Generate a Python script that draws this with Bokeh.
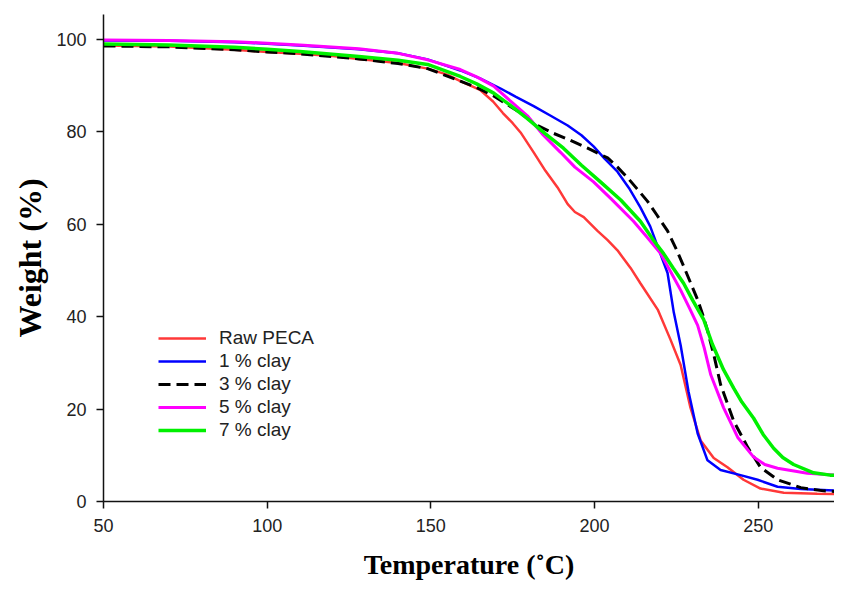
from bokeh.plotting import figure
from bokeh.models import Range1d, FixedTicker, Legend, LegendItem
from bokeh.embed import file_html
from bokeh.resources import INLINE

# ---- data ----
raw_t = [50, 70, 90, 100, 110, 120, 128, 140, 149, 155, 159, 165, 169, 172, 175, 177.4, 181.4, 185,
         188.7, 191.8, 194, 196.7, 200.9, 204, 207, 211, 214, 219.3, 223.2, 226.3, 229.3, 232.4,
         236.4, 240.6, 245.5, 250.7, 257.8, 268, 278]
raw_w = [98.6, 98.4, 97.7, 97.2, 96.8, 96.3, 95.7, 94.8, 93.6, 92.3, 90.9, 89.0, 86.5, 84.0, 81.8, 79.8,
         75.5, 71.5, 67.9, 64.3, 62.6, 61.5, 58.5, 56.5, 54.3, 50.5, 47.2, 41.5, 35.0, 29.5, 20.3, 13.2,
         9.4, 7.4, 4.7, 2.8, 1.9, 1.7, 1.6]

c1_t = [50, 70, 90, 100, 110, 128, 140, 149, 159, 165, 171.3, 176, 181.4, 186.6, 191.8, 196, 199.7,
        203, 207, 210.5, 214, 217, 219.3, 222.3, 224.2, 226.3, 228.7, 231.5, 234.5, 238.5, 244.6,
        249.8, 255.9, 263, 278]
c1_w = [99.7, 99.6, 99.3, 99.0, 98.6, 97.8, 96.9, 95.6, 93.2, 91.5, 89.3, 87.5, 85.5, 83.4, 81.3, 79.2,
        76.8, 74.2, 71.3, 67.8, 63.6, 59.5, 55.1, 49.4, 40.9, 33.8, 23.8, 14.7, 8.9, 6.8, 5.7, 4.7,
        3.2, 2.7, 2.2]

c3_t = [50, 70, 90, 100, 110, 128, 140, 149, 159, 164, 169.2, 173, 177.4, 182, 187.5, 192, 197.9, 201,
        204, 207, 210.1, 213, 216.2, 219, 222.3, 225, 227.2, 229.5, 231.5, 233, 234.5, 236.5, 238.5,
        242.5, 246.8, 250.7, 255.9, 263, 270, 278]
c3_w = [98.5, 98.3, 97.7, 97.2, 96.8, 95.7, 94.7, 93.6, 90.9, 89.5, 87.7, 86.0, 84.0, 81.5, 79.6, 78.3,
        76.4, 75.3, 74.3, 72.3, 70.0, 67.6, 64.9, 62.0, 58.5, 54.5, 50.9, 47.0, 43.6, 40.5, 37.0, 31.5,
        25.3, 17.4, 11.7, 7.4, 4.7, 3.0, 2.3, 2.0]

c5_t = [50, 70, 90, 100, 110, 128, 140, 149, 159, 164, 169.2, 174, 179.5, 184, 189.6, 194, 199.7, 205,
        211.9, 216, 220.2, 223, 226.3, 229, 231.5, 233.5, 235.5, 239.4, 243.7, 248.6, 252, 255.9,
        265, 278]
c5_w = [99.8, 99.7, 99.4, 99.1, 98.7, 97.9, 96.9, 95.5, 93.4, 91.8, 89.8, 86.8, 83.4, 79.5, 75.5, 72.3,
        69.1, 65.5, 60.6, 57.2, 53.6, 50.0, 45.7, 41.8, 38.1, 33.2, 27.4, 20.3, 13.9, 9.6, 8.0, 7.2,
        6.1, 5.5]

c7_t = [50, 70, 90, 100, 110, 128, 140, 149, 159, 164, 169.2, 174, 179.5, 185, 190.5, 196, 201.8, 208,
        214, 218, 221.1, 224, 227.2, 230, 233.3, 236, 239.4, 242.5, 245, 248.6, 251.5, 254.7, 257.5,
        260.8, 266.9, 272, 278]
c7_w = [98.9, 98.7, 98.2, 97.8, 97.3, 96.2, 95.4, 94.5, 91.9, 90.3, 88.3, 85.8, 82.8, 79.5, 76.4, 72.7,
        69.1, 65.2, 60.6, 56.5, 53.6, 50.5, 47.2, 43.5, 39.4, 34.0, 28.5, 24.5, 21.5, 18.0, 14.5, 11.5,
        9.5, 8.0, 6.2, 5.7, 5.5]

series_names = ["Raw PECA", "1 % clay", "3 % clay", "5 % clay", "7 % clay"]
x_ticks = [50, 100, 150, 200, 250]
y_ticks = [0, 20, 40, 60, 80, 100]

p = figure(width=834, height=582, output_backend="svg", toolbar_location=None,
           x_range=Range1d(50, 273.3), y_range=Range1d(0, 105.3),
           min_border_left=103, min_border_right=0, min_border_top=14, min_border_bottom=80)
p.outline_line_color = None
p.xgrid.visible = False
p.ygrid.visible = False
p.background_fill_color = "white"
p.border_fill_color = "white"

for ax in (p.xaxis[0], p.yaxis[0]):
    ax.axis_line_color = "#111111"
    ax.axis_line_width = 1.5
    ax.major_tick_line_color = "#111111"
    ax.major_tick_line_width = 1.5
    ax.major_tick_out = 7
    ax.major_tick_in = 0
    ax.minor_tick_line_color = None
    ax.major_label_text_font = "Liberation Sans"
    ax.major_label_text_font_size = "18px"
    ax.major_label_text_color = "#222222"
    ax.major_label_standoff = 10
    ax.axis_label_text_font = "Liberation Serif"
    ax.axis_label_text_font_style = "bold"
    ax.axis_label_text_color = "#000000"

p.xaxis.ticker = FixedTicker(ticks=x_ticks)
p.yaxis.ticker = FixedTicker(ticks=y_ticks)
p.xaxis.axis_label = "Temperature (˚C)"
p.yaxis.axis_label = "Weight (%)"
p.xaxis.axis_label_text_font_size = "28px"
p.yaxis.axis_label_text_font_size = "32px"
p.xaxis.axis_label_standoff = 14
p.yaxis.axis_label_standoff = 5

r_raw = p.line(raw_t, raw_w, line_color="#ff3838", line_width=2.5)
r_c1 = p.line(c1_t, c1_w, line_color="#0000ff", line_width=2.5)
r_c3 = p.line(c3_t, c3_w, line_color="#000000", line_width=3, line_dash="12 6")
r_c5 = p.line(c5_t, c5_w, line_color="#ff00ff", line_width=3)
r_c7 = p.line(c7_t, c7_w, line_color="#00f000", line_width=3.5)

legend = Legend(items=[LegendItem(label=n, renderers=[r]) for n, r in
                       zip(series_names, [r_raw, r_c1, r_c3, r_c5, r_c7])],
                location=(55, 60))
legend.border_line_color = None
legend.background_fill_alpha = 0
legend.padding = 0
legend.margin = 0
legend.spacing = 1
legend.glyph_width = 48
legend.glyph_height = 20
legend.label_height = 20
legend.label_standoff = 13
legend.label_text_font = "Liberation Sans"
legend.label_text_font_size = "19px"
legend.label_text_color = "#222222"
p.add_layout(legend)

open("out.html", "w").write(file_html(p, INLINE))
